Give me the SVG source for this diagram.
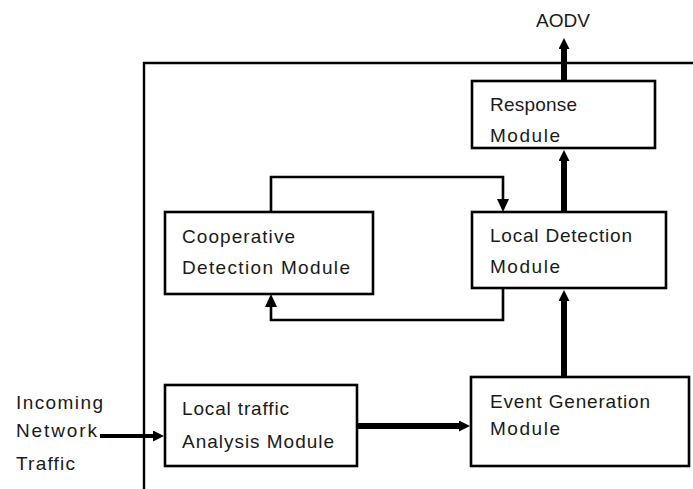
<svg xmlns="http://www.w3.org/2000/svg" width="693" height="489" viewBox="0 0 693 489">
<style>
.box{fill:#fff;stroke:#000;stroke-width:2.6}
.lbl{font-family:"Liberation Sans",Arial,sans-serif;font-size:19px;fill:#1a1a1a}
.thin{fill:none;stroke:#000;stroke-width:2.6}
.thick{fill:none;stroke:#000;stroke-width:6}
</style>
<defs>
<marker id="ah" markerUnits="userSpaceOnUse" markerWidth="14" markerHeight="14" refX="0" refY="6" orient="auto">
<path d="M0,0 L13,6 L0,12 z" fill="#000"/>
</marker>
<marker id="ahs" markerUnits="userSpaceOnUse" markerWidth="14" markerHeight="14" refX="0" refY="5.5" orient="auto">
<path d="M0,0 L11,5.5 L0,11 z" fill="#000"/>
</marker>
</defs>
<rect width="693" height="489" fill="#fff"/>
<path d="M144,489 L144,63 L693,63" fill="none" stroke="#000" stroke-width="2.4"/>
<text class="lbl" x="536" y="27" textLength="54" lengthAdjust="spacing">AODV</text>
<g id="connectors">
<line class="thick" x1="564" y1="81" x2="564" y2="49" marker-end="url(#ahs)"/>
<line class="thick" x1="564" y1="211" x2="564" y2="161" marker-end="url(#ahs)"/>
<line class="thick" x1="564" y1="377" x2="564" y2="301" marker-end="url(#ahs)"/>
<line class="thick" x1="357" y1="426" x2="459" y2="426" marker-end="url(#ahs)"/>
<line x1="100" y1="436" x2="153" y2="436" stroke="#000" stroke-width="4" marker-end="url(#ahs)"/>
<path class="thin" d="M271,211 L271,177 L503,177 L503,199" marker-end="url(#ah)"/>
<path class="thin" d="M503,288 L503,320 L271,320 L271,307" marker-end="url(#ah)"/>
</g>
<g id="response">
<rect class="box" x="472" y="81" width="183" height="67"/>
<text class="lbl" x="490" y="111" textLength="87" lengthAdjust="spacing">Response</text>
<text class="lbl" x="490" y="142" textLength="70" lengthAdjust="spacing">Module</text>
</g>
<g id="cooperative">
<rect class="box" x="165" y="212" width="208" height="82"/>
<text class="lbl" x="182" y="243" textLength="113" lengthAdjust="spacing">Cooperative</text>
<text class="lbl" x="182" y="274" textLength="168" lengthAdjust="spacing">Detection Module</text>
</g>
<g id="localdetection">
<rect class="box" x="472" y="212" width="194" height="76"/>
<text class="lbl" x="490" y="242" textLength="142" lengthAdjust="spacing">Local Detection</text>
<text class="lbl" x="490" y="273" textLength="70" lengthAdjust="spacing">Module</text>
</g>
<g id="localtraffic">
<rect class="box" x="165" y="385" width="192" height="81"/>
<text class="lbl" x="182" y="415" textLength="107" lengthAdjust="spacing">Local traffic</text>
<text class="lbl" x="182" y="448" textLength="152" lengthAdjust="spacing">Analysis Module</text>
</g>
<g id="eventgeneration">
<rect class="box" x="471" y="377" width="218" height="89"/>
<text class="lbl" x="490" y="408" textLength="160" lengthAdjust="spacing">Event Generation</text>
<text class="lbl" x="490" y="435" textLength="70" lengthAdjust="spacing">Module</text>
</g>
<g id="incoming">
<text class="lbl" x="16" y="409" textLength="87" lengthAdjust="spacing">Incoming</text>
<text class="lbl" x="16" y="437" textLength="81" lengthAdjust="spacing">Network</text>
<text class="lbl" x="16" y="470" textLength="59" lengthAdjust="spacing">Traffic</text>
</g>
</svg>
